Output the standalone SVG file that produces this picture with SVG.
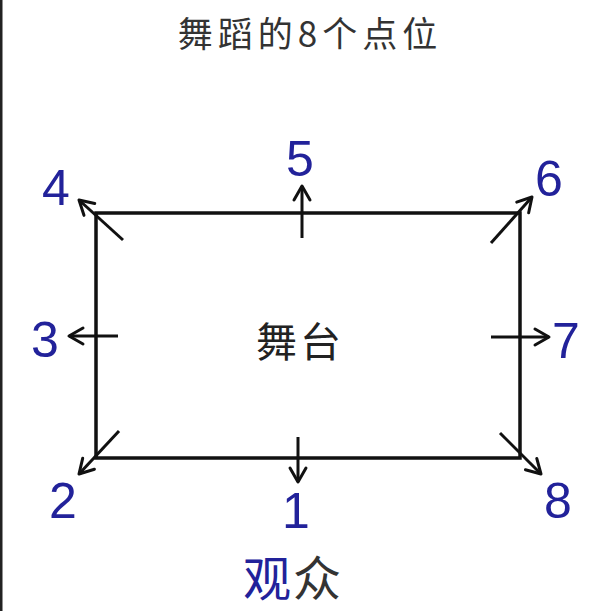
<svg xmlns="http://www.w3.org/2000/svg" width="612" height="611" viewBox="0 0 612 611">
<style>
.num{font-family:"Liberation Sans","DejaVu Sans",sans-serif;font-size:50px;fill:#22229a;text-anchor:middle}
.cjk{font-family:"Noto Sans CJK SC","Noto Sans",sans-serif;text-anchor:middle}
.arr{stroke:#111;stroke-width:3;fill:none;marker-end:url(#ah)}
</style>
<defs>
<marker id="ah" markerUnits="userSpaceOnUse" markerWidth="30" markerHeight="30" viewBox="-20 -15 30 30" refX="0" refY="0" orient="auto">
<path d="M-14,-8 L0,0 L-14,8" fill="none" stroke="#111" stroke-width="3" stroke-linecap="round" stroke-linejoin="round"/>
</marker>
</defs>
<rect width="612" height="611" fill="#fff"/>
<rect x="0" y="0" width="2.5" height="611" fill="#222"/>
<g id="title"><text class="cjk" x="310" y="47" font-size="35" fill="#333" letter-spacing="5">舞蹈的8个点位</text></g>
<g id="stage">
<rect x="96" y="213" width="424" height="245" fill="none" stroke="#111" stroke-width="3.5"/>
<text class="cjk" x="300" y="357" font-size="41" fill="#222" letter-spacing="3">舞台</text>
</g>
<g id="connectors">
<line class="arr" x1="123" y1="240" x2="79" y2="200"/>
<line class="arr" x1="302" y1="238" x2="302" y2="186"/>
<line class="arr" x1="491" y1="243" x2="532" y2="197"/>
<line class="arr" x1="118" y1="336" x2="69" y2="336"/>
<line class="arr" x1="491" y1="337" x2="549" y2="337"/>
<line class="arr" x1="119" y1="431" x2="79" y2="474"/>
<line class="arr" x1="298" y1="437" x2="298" y2="482"/>
<line class="arr" x1="500" y1="433" x2="541" y2="474"/>
</g>
<g id="p4"><text class="num" x="56" y="205">4</text></g>
<g id="p5"><text class="num" x="300" y="176">5</text></g>
<g id="p6"><text class="num" x="549" y="196">6</text></g>
<g id="p3"><text class="num" x="45" y="357">3</text></g>
<g id="p7"><text class="num" x="566" y="358">7</text></g>
<g id="p2"><text class="num" x="63" y="518">2</text></g>
<g id="p1"><text class="num" x="296" y="528">1</text></g>
<g id="p8"><text class="num" x="558" y="518">8</text></g>
<g id="audience"><text class="cjk" x="293" y="596" font-size="48" fill="#333" letter-spacing="2"><tspan fill="#22229a">观</tspan>众</text></g>
</svg>
